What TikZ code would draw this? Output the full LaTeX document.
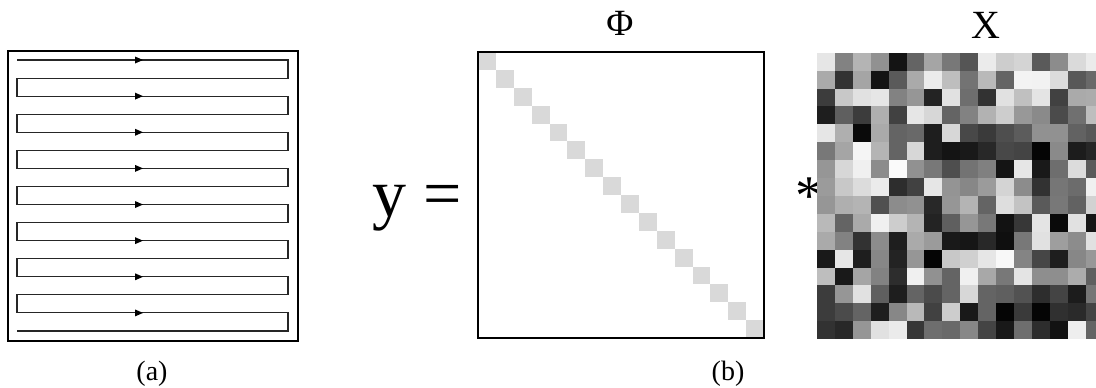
\documentclass[tikz,border=0pt]{standalone}
\usepackage{fontspec}
\setmainfont{Liberation Serif}
\begin{document}
\begin{tikzpicture}[x=1pt,y=-1pt,
  frame/.style={draw=black,line width=2pt},
  zig/.style={draw=black!85,line width=1.1pt},
  diagcell/.style={fill={rgb,255:red,217;green,217;blue,217}},
  lbl/.style={inner sep=0pt,anchor=base}]
\useasboundingbox (0,0) rectangle (1096,388);
% (a) raster scan
\draw[frame] (8,51) rectangle (298,341);
\draw[zig] (17,60) \foreach \k in {0,...,6} { -- ++(271,0) -- ++(0,18.067) -- ++(-271,0) -- ++(0,18.067) } -- ++(271,0) -- ++(0,18.067) -- ++(-271,0);
\foreach \k in {0,...,7} {
  \fill[black] (143,{60+36.133*\k}) -- ++(-8,-3.5) -- ++(0,7) -- cycle;
}
\node[lbl,font=\fontsize{28}{30}\selectfont] (la) at (152,380) {(a)};
% (b) matrix Phi
\foreach \k in {0,...,15} {
  \fill[diagcell] ({478+17.875*\k},{52+17.875*\k}) rectangle ++(17.875,17.875);
}
\draw[frame] (478,52) rectangle (764,338);
\node[lbl,font=\fontsize{37}{40}\selectfont] (phi) at (620,35) {Φ};
\node[lbl,font=\fontsize{68}{72}\selectfont,anchor=base west] (yeq) at (372,216) {y =};
\node[lbl,font=\fontsize{56}{60}\selectfont] (ast) at (809,214) {*};
\node[lbl,font=\fontsize{28}{30}\selectfont] (lb) at (728,380) {(b)};
% X image
\node[lbl,font=\fontsize{40}{42}\selectfont] (X) at (986,38) {X};
\begin{scope}
\clip (0,0) rectangle (1096,388);
\foreach \row [count=\r from 0] in {
{230,130,180,145,20,100,165,120,85,235,205,212,90,140,218,235},
{170,50,165,20,90,170,235,190,115,185,100,243,242,220,88,105},
{60,200,225,230,130,150,35,225,110,50,225,192,228,65,170,172},
{30,95,60,175,65,230,215,100,130,178,205,152,138,75,112,190},
{230,175,10,170,100,105,30,215,72,58,78,92,145,145,98,88},
{120,165,245,180,100,215,30,20,25,40,72,68,5,138,28,38},
{150,215,240,140,250,145,120,78,115,128,20,230,25,110,220,90},
{155,200,220,235,45,65,230,148,135,155,212,140,50,118,108,240},
{150,175,180,80,140,145,40,150,180,100,222,195,90,120,98,210},
{185,100,170,240,205,180,35,95,150,120,18,55,228,10,225,22},
{170,130,50,140,30,170,155,25,22,40,15,120,225,158,140,225},
{25,230,30,135,35,150,5,200,208,230,248,132,70,30,135,152},
{190,25,165,130,45,240,145,100,240,168,120,228,142,142,172,95},
{60,150,225,95,30,100,75,100,215,100,95,82,45,68,28,118},
{60,75,100,30,135,185,65,205,25,100,5,58,5,48,42,68},
{50,40,150,225,235,55,110,105,135,68,25,110,45,18,238,100}} {
  \foreach \v [count=\c from 0] in \row {
    \definecolor{cc}{RGB}{\v,\v,\v}
    \fill[cc] ({817+17.9*\c},{52.7+17.9*\r}) rectangle ++(17.95,17.95);
  }
}
\end{scope}
\end{tikzpicture}
\end{document}
